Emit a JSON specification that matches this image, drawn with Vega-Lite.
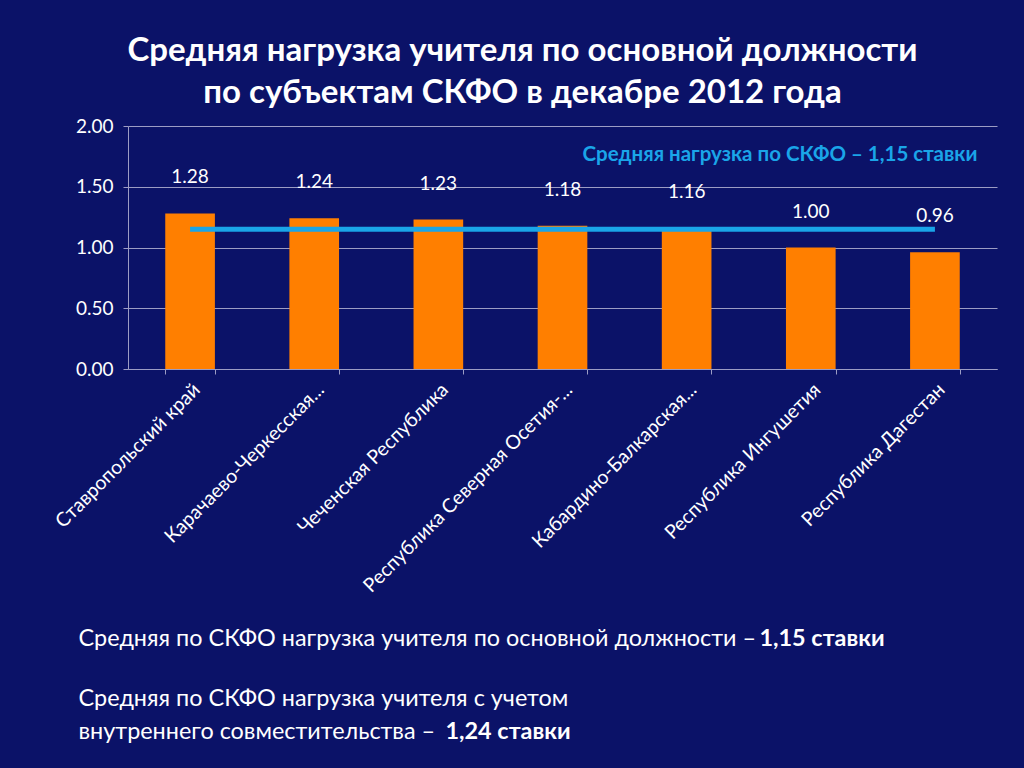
{
  "$schema": "https://vega.github.io/schema/vega-lite/v6.json",
  "width": 869,
  "height": 243,
  "autosize": {"type": "none"},
  "padding": {"left": 128, "top": 126, "right": 27, "bottom": 399},
  "background": "#0b1268",
  "config": {
    "font": "Lato",
    "view": {"stroke": null},
    "axis": {"gridColor": "#9c9cc4", "domainColor": "#9c9cc4", "tickColor": "#9c9cc4", "labelColor": "white", "titleColor": "white"}
  },
  "title": {
    "text": ["Средняя нагрузка учителя по основной должности", "по субъектам СКФО в декабре 2012 года"],
    "color": "white",
    "fontSize": 33,
    "fontWeight": "bold",
    "lineHeight": 42,
    "anchor": "middle",
    "dx": -40,
    "offset": 7
  },
  "data": {
    "values": [
      {"region": "Ставропольский край", "value": 1.28, "avg": 1.15},
      {"region": "Карачаево-Черкесская...", "value": 1.24, "avg": 1.15},
      {"region": "Чеченская Республика", "value": 1.23, "avg": 1.15},
      {"region": "Республика Северная Осетия-...", "value": 1.18, "avg": 1.15},
      {"region": "Кабардино-Балкарская...", "value": 1.16, "avg": 1.15},
      {"region": "Республика Ингушетия", "value": 1.0, "avg": 1.15},
      {"region": "Республика Дагестан", "value": 0.96, "avg": 1.15}
    ]
  },
  "layer": [
    {
      "mark": {"type": "bar", "color": "#ff7f00"},
      "encoding": {
        "x": {
          "field": "region", "type": "nominal", "sort": null,
          "scale": {"paddingInner": 0.6, "paddingOuter": 0.3},
          "axis": {
            "orient": "bottom",
            "labelAngle": -45, "labelFontSize": 19.5, "labelLimit": 0, "labelPadding": 6,
            "tickBand": "extent", "tickSize": 5, "grid": false,
            "title": "Средняя по СКФО нагрузка учителя по основной должности –",
            "titleFontSize": 23.4, "titleFontWeight": "normal",
            "titleX": -50, "titleY": 276, "titleAlign": "left", "titleBaseline": "alphabetic", "titleAnchor": "start"
          }
        },
        "y": {
          "field": "value", "type": "quantitative",
          "scale": {"domain": [0, 2]},
          "axis": {
            "values": [0, 0.5, 1, 1.5, 2], "format": ".2f", "labelFontSize": 19, "tickSize": 5, "labelPadding": 10, "grid": true,
            "title": ["Средняя по СКФО нагрузка учителя с учетом", "внутреннего совместительства –"],
            "titleAngle": 0, "titleFontSize": 23.4, "titleFontWeight": "normal", "titleLineHeight": 33,
            "titleX": -50, "titleY": 579, "titleAlign": "left", "titleBaseline": "alphabetic", "titleAnchor": "start"
          }
        }
      }
    },
    {
      "mark": {"type": "line", "strokeWidth": 5},
      "encoding": {
        "x": {
          "field": "region", "type": "nominal", "sort": null,
          "axis": {"orient": "bottom", "labels": false, "ticks": false, "domain": false, "grid": false, "title": "1,15 ставки", "titleFontSize": 23.4, "titleFontWeight": "bold", "titleX": 631, "titleY": 276, "titleAlign": "left", "titleBaseline": "alphabetic", "titleAnchor": "start"}
        },
        "y": {"field": "avg", "type": "quantitative"},
        "color": {
          "datum": "Средняя нагрузка по СКФО – 1,15 ставки",
          "scale": {"range": ["#1aa5e8"]},
          "legend": {"orient": "top-right", "title": null, "symbolSize": 0, "symbolOpacity": 0, "labelOffset": 0, "labelFontSize": 20.5, "labelFontWeight": "bold", "labelColor": "#1aa5e8", "labelLimit": 0, "offset": 19, "padding": 0}
        }
      }
    },
    {
      "mark": {"type": "text", "color": "white", "fontSize": 19, "baseline": "middle", "dy": -36},
      "encoding": {
        "x": {
          "field": "region", "type": "nominal", "sort": null,
          "axis": {"orient": "bottom", "labels": false, "ticks": false, "domain": false, "grid": false, "title": "1,24 ставки", "titleFontSize": 23.4, "titleFontWeight": "bold", "titleX": 317, "titleY": 369, "titleAlign": "left", "titleBaseline": "alphabetic", "titleAnchor": "start"}
        },
        "y": {"field": "value", "type": "quantitative"},
        "text": {"field": "value", "type": "quantitative", "format": ".2f"}
      }
    }
  ],
  "resolve": {"axis": {"x": "independent"}}
}
